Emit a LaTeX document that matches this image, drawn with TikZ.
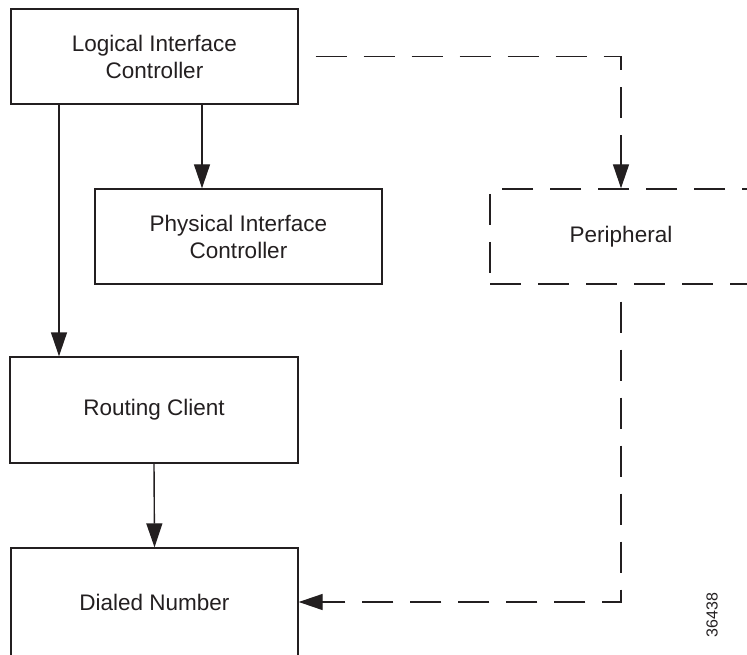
\documentclass[tikz,border=0pt]{standalone}
\usepackage{fontspec}
\setmainfont{Liberation Sans}
\usetikzlibrary{arrows.meta}
\definecolor{ink}{HTML}{231F20}
\tikzset{
  box/.style={draw=ink, line width=1.4pt, align=center, text=ink,
    font=\fontsize{22.5}{27}\selectfont, inner sep=0pt},
  dbox/.style={box, dash pattern=on 31pt off 17pt},
  arr/.style={draw=ink, line width=1.4pt, -{Triangle[length=24pt,width=16pt]}},
  darr/.style={arr, dash pattern=on 31pt off 17pt, dash phase=31pt}
}
\begin{document}
\begin{tikzpicture}[x=1pt,y=-1pt]
\useasboundingbox (0,0) rectangle (747,655);
\clip (0,0) rectangle (747,655);
\node[box, minimum width=287pt, minimum height=95pt] (lic) at (154.5,56.5) {Logical Interface\\Controller};
\node[box, minimum width=287pt, minimum height=95pt] (pic) at (238.5,236.5) {Physical Interface\\Controller};
\node[dbox, minimum width=262pt, minimum height=95pt] (per) at (621,236.5) {Peripheral};
\node[box, minimum width=288pt, minimum height=106pt] (rc) at (154,410) {Routing Client};
\node[box, minimum width=287pt, minimum height=108pt] (dn) at (154.5,602) {Dialed Number};
\node[text=ink, font=\fontsize{16}{19}\selectfont, rotate=90] (fig) at (712,615) {36438};
\coordinate (xa) at (59,0);
\coordinate (xb) at (202,0);
\draw[arr] (lic.south -| xa) -- (rc.north -| xa);
\draw[arr] (lic.south -| xb) -- (pic.north -| xb);
\draw[arr] (rc.south) -- (dn.north);
\draw[darr] (lic.east) -| (per.north);
\draw[darr] (per.south) |- (dn.east);
\end{tikzpicture}
\end{document}
